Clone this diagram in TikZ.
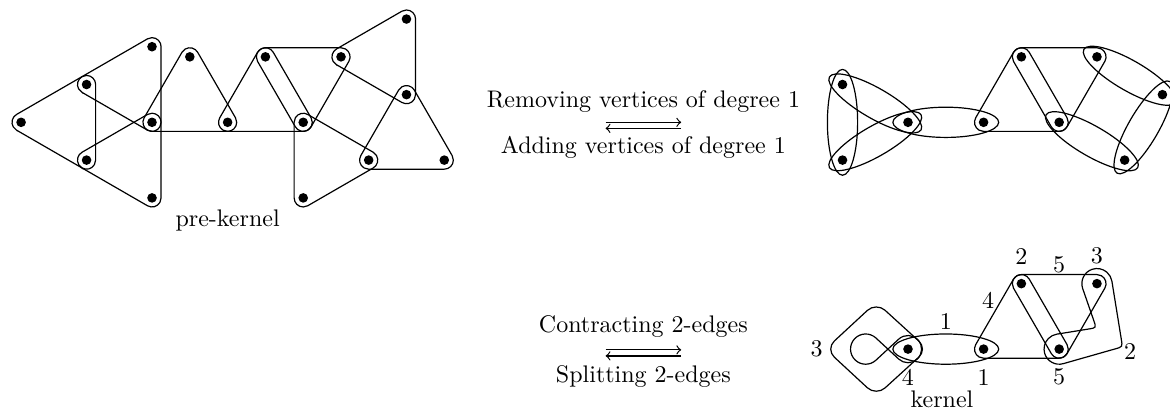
\documentclass[tikz,border=0pt]{standalone}
\usetikzlibrary{calc}

\newcommand{\hullr}{0.12}
% outline of a 3-edge, corners counterclockwise
\newcommand{\hedge}[3]{%
  \draw let \p1=(#1.center), \p2=(#2.center), \p3=(#3.center),
      \n1={atan2(\y2-\y1,\x2-\x1)}, \n2={atan2(\y3-\y2,\x3-\x2)},
      \n3={atan2(\y1-\y3,\x1-\x3)} in
    ($(#1.center)+({\n1-90}:\hullr)$) -- ($(#2.center)+({\n1-90}:\hullr)$)
    arc[start angle={\n1-90}, delta angle={mod(\n2-\n1+720,360)}, radius=\hullr]
    -- ($(#3.center)+({\n2-90}:\hullr)$)
    arc[start angle={\n2-90}, delta angle={mod(\n3-\n2+720,360)}, radius=\hullr]
    -- ($(#1.center)+({\n3-90}:\hullr)$)
    arc[start angle={\n3-90}, delta angle={mod(\n1-\n3+720,360)}, radius=\hullr]
    -- cycle;}
% ellipse round a 2-edge
\newcommand{\tedge}[3]{%
  \draw[rotate around={#3:($(#1)!0.5!(#2)$)}] ($(#1)!0.5!(#2)$) ellipse [x radius=0.7, y radius=0.2];}

\begin{document}
\begin{tikzpicture}[
    x=1.107cm, y=1.107cm, line width=0.5pt,
    vtx/.style={circle, fill, inner sep=0pt, minimum size=4pt},
    lab/.style={inner sep=1pt}
    ]
    \useasboundingbox (-2.011,-3.872) rectangle (13.466,1.618);

    % pre-kernel
    \node [vtx] (pA) at (-1.732,0) {};
    \node [vtx] (pB) at (-0.866,0.5) {};
    \node [vtx] (pC) at (-0.866,-0.5) {};
    \node [vtx] (pD) at (0,1) {};
    \node [vtx] (pE) at (0,0) {};
    \node [vtx] (pF) at (0,-1) {};
    \node [vtx] (pG) at (0.5,0.866) {};
    \node [vtx] (pH) at (1,0) {};
    \node [vtx] (pI) at (1.5,0.866) {};
    \node [vtx] (pJ) at (2,0) {};
    \node [vtx] (pK) at (2,-1) {};
    \node [vtx] (pL) at (2.5,0.866) {};
    \node [vtx] (pM) at (3.366,1.366) {};
    \node [vtx] (pN) at (3.366,0.366) {};
    \node [vtx] (pO) at (2.866,-0.5) {};
    \node [vtx] (pP) at (3.866,-0.5) {};

    \hedge{pA}{pC}{pB}
    \hedge{pB}{pE}{pD}
    \hedge{pC}{pF}{pE}
    \hedge{pE}{pH}{pG}
    \hedge{pH}{pJ}{pI}
    \hedge{pI}{pJ}{pL}
    \hedge{pJ}{pK}{pO}
    \hedge{pL}{pN}{pM}
    \hedge{pO}{pP}{pN}

    \node (prekernel) at (1,-1.3) {pre-kernel};

    % arrows in the middle
    \node [anchor=base] (remove) at (6.5,0.19) {Removing vertices of degree 1};
    \node [anchor=base] (add) at (6.5,-0.41) {Adding vertices of degree 1};
    \coordinate (rm1) at (6,0);
    \coordinate (rm2) at (7,0);
    \coordinate (ad1) at (6,-0.08);
    \coordinate (ad2) at (7,-0.08);
    \draw [->] (rm1) -- (rm2);
    \draw [->] (ad2) -- (ad1);

    \node [anchor=base] (contract) at (6.5,-2.78) {Contracting 2-edges};
    \node [anchor=base] (split) at (6.5,-3.44) {Splitting 2-edges};
    \coordinate (ct1) at (6,-3.01);
    \coordinate (ct2) at (7,-3.01);
    \coordinate (sp1) at (6,-3.09);
    \coordinate (sp2) at (7,-3.09);
    \draw [->] (ct1) -- (ct2);
    \draw [->] (sp2) -- (sp1);

    % without vertices of degree 1
    \node [vtx] (rB) at (9.134,0.5) {};
    \node [vtx] (rC) at (9.134,-0.5) {};
    \node [vtx] (rE) at (10,0) {};
    \node [vtx] (rH) at (11,0) {};
    \node [vtx] (rI) at (11.5,0.866) {};
    \node [vtx] (rJ) at (12,0) {};
    \node [vtx] (rL) at (12.5,0.866) {};
    \node [vtx] (rN) at (13.366,0.366) {};
    \node [vtx] (rO) at (12.866,-0.5) {};

    \tedge{rB}{rC}{90}
    \tedge{rB}{rE}{-30}
    \tedge{rC}{rE}{30}
    \tedge{rE}{rH}{0}
    \hedge{rH}{rJ}{rI}
    \hedge{rI}{rJ}{rL}
    \tedge{rL}{rN}{-30}
    \tedge{rN}{rO}{60}
    \tedge{rJ}{rO}{-30}

    % kernel
    \node [vtx] (kE) at (10,-3) {};
    \node [vtx] (kH) at (11,-3) {};
    \node [vtx] (kI) at (11.5,-2.134) {};
    \node [vtx] (kJ) at (12,-3) {};
    \node [vtx] (kL) at (12.5,-2.134) {};

    \tedge{kE}{kH}{0}
    \hedge{kH}{kJ}{kI}
    \hedge{kI}{kJ}{kL}
    % loop at kE
    \draw [rounded corners=5pt] ($(kE)+(0.26,0)$) -- ($(kE)+(-0.42,0.62)$)
        -- ($(kE)+(-1.09,0)$) -- ($(kE)+(-0.42,-0.62)$) -- cycle;
    \draw ($(kE)+(132.8:0.18)$) arc[start angle=132.8, end angle=-132.8, radius=0.18]
        -- ($(kE)+(-0.56,0)+(47.2:0.2)$) arc[start angle=47.2, end angle=312.8, radius=0.2] -- cycle;
    % 2-edge from kL to kJ
    \draw ($(kL)+(199:0.2)$) arc[start angle=199, end angle=9, radius=0.2]
        -- ($(kJ)+(0.822,0.129)$) .. controls ($(kJ)+(0.838,0.03)$) .. ($(kJ)+(0.742,0.003)$)
        -- ($(kJ)+(-74:0.2)$) arc[start angle=-74, end angle=-261, radius=0.2]
        -- ($(kJ)+(0.392,0.266)$) .. controls ($(kJ)+(0.491,0.282)$) .. ($(kJ)+(0.458,0.377)$)
        -- cycle;

    \node [lab] (l3a) at (8.79,-3.0) {3};
    \node [lab] (l4a) at (10.0,-3.37) {4};
    \node [lab] (l1a) at (10.5,-2.64) {1};
    \node [lab] (l1b) at (11.0,-3.37) {1};
    \node [lab] (l4b) at (11.06,-2.35) {4};
    \node [lab] (l2a) at (11.5,-1.77) {2};
    \node [lab] (l5a) at (12.0,-1.89) {5};
    \node [lab] (l3b) at (12.5,-1.76) {3};
    \node [lab] (l2b) at (12.94,-3.03) {2};
    \node [lab] (l5b) at (12.0,-3.37) {5};

    \node (kernel) at (10.45,-3.67) {kernel};
\end{tikzpicture}
\end{document}
